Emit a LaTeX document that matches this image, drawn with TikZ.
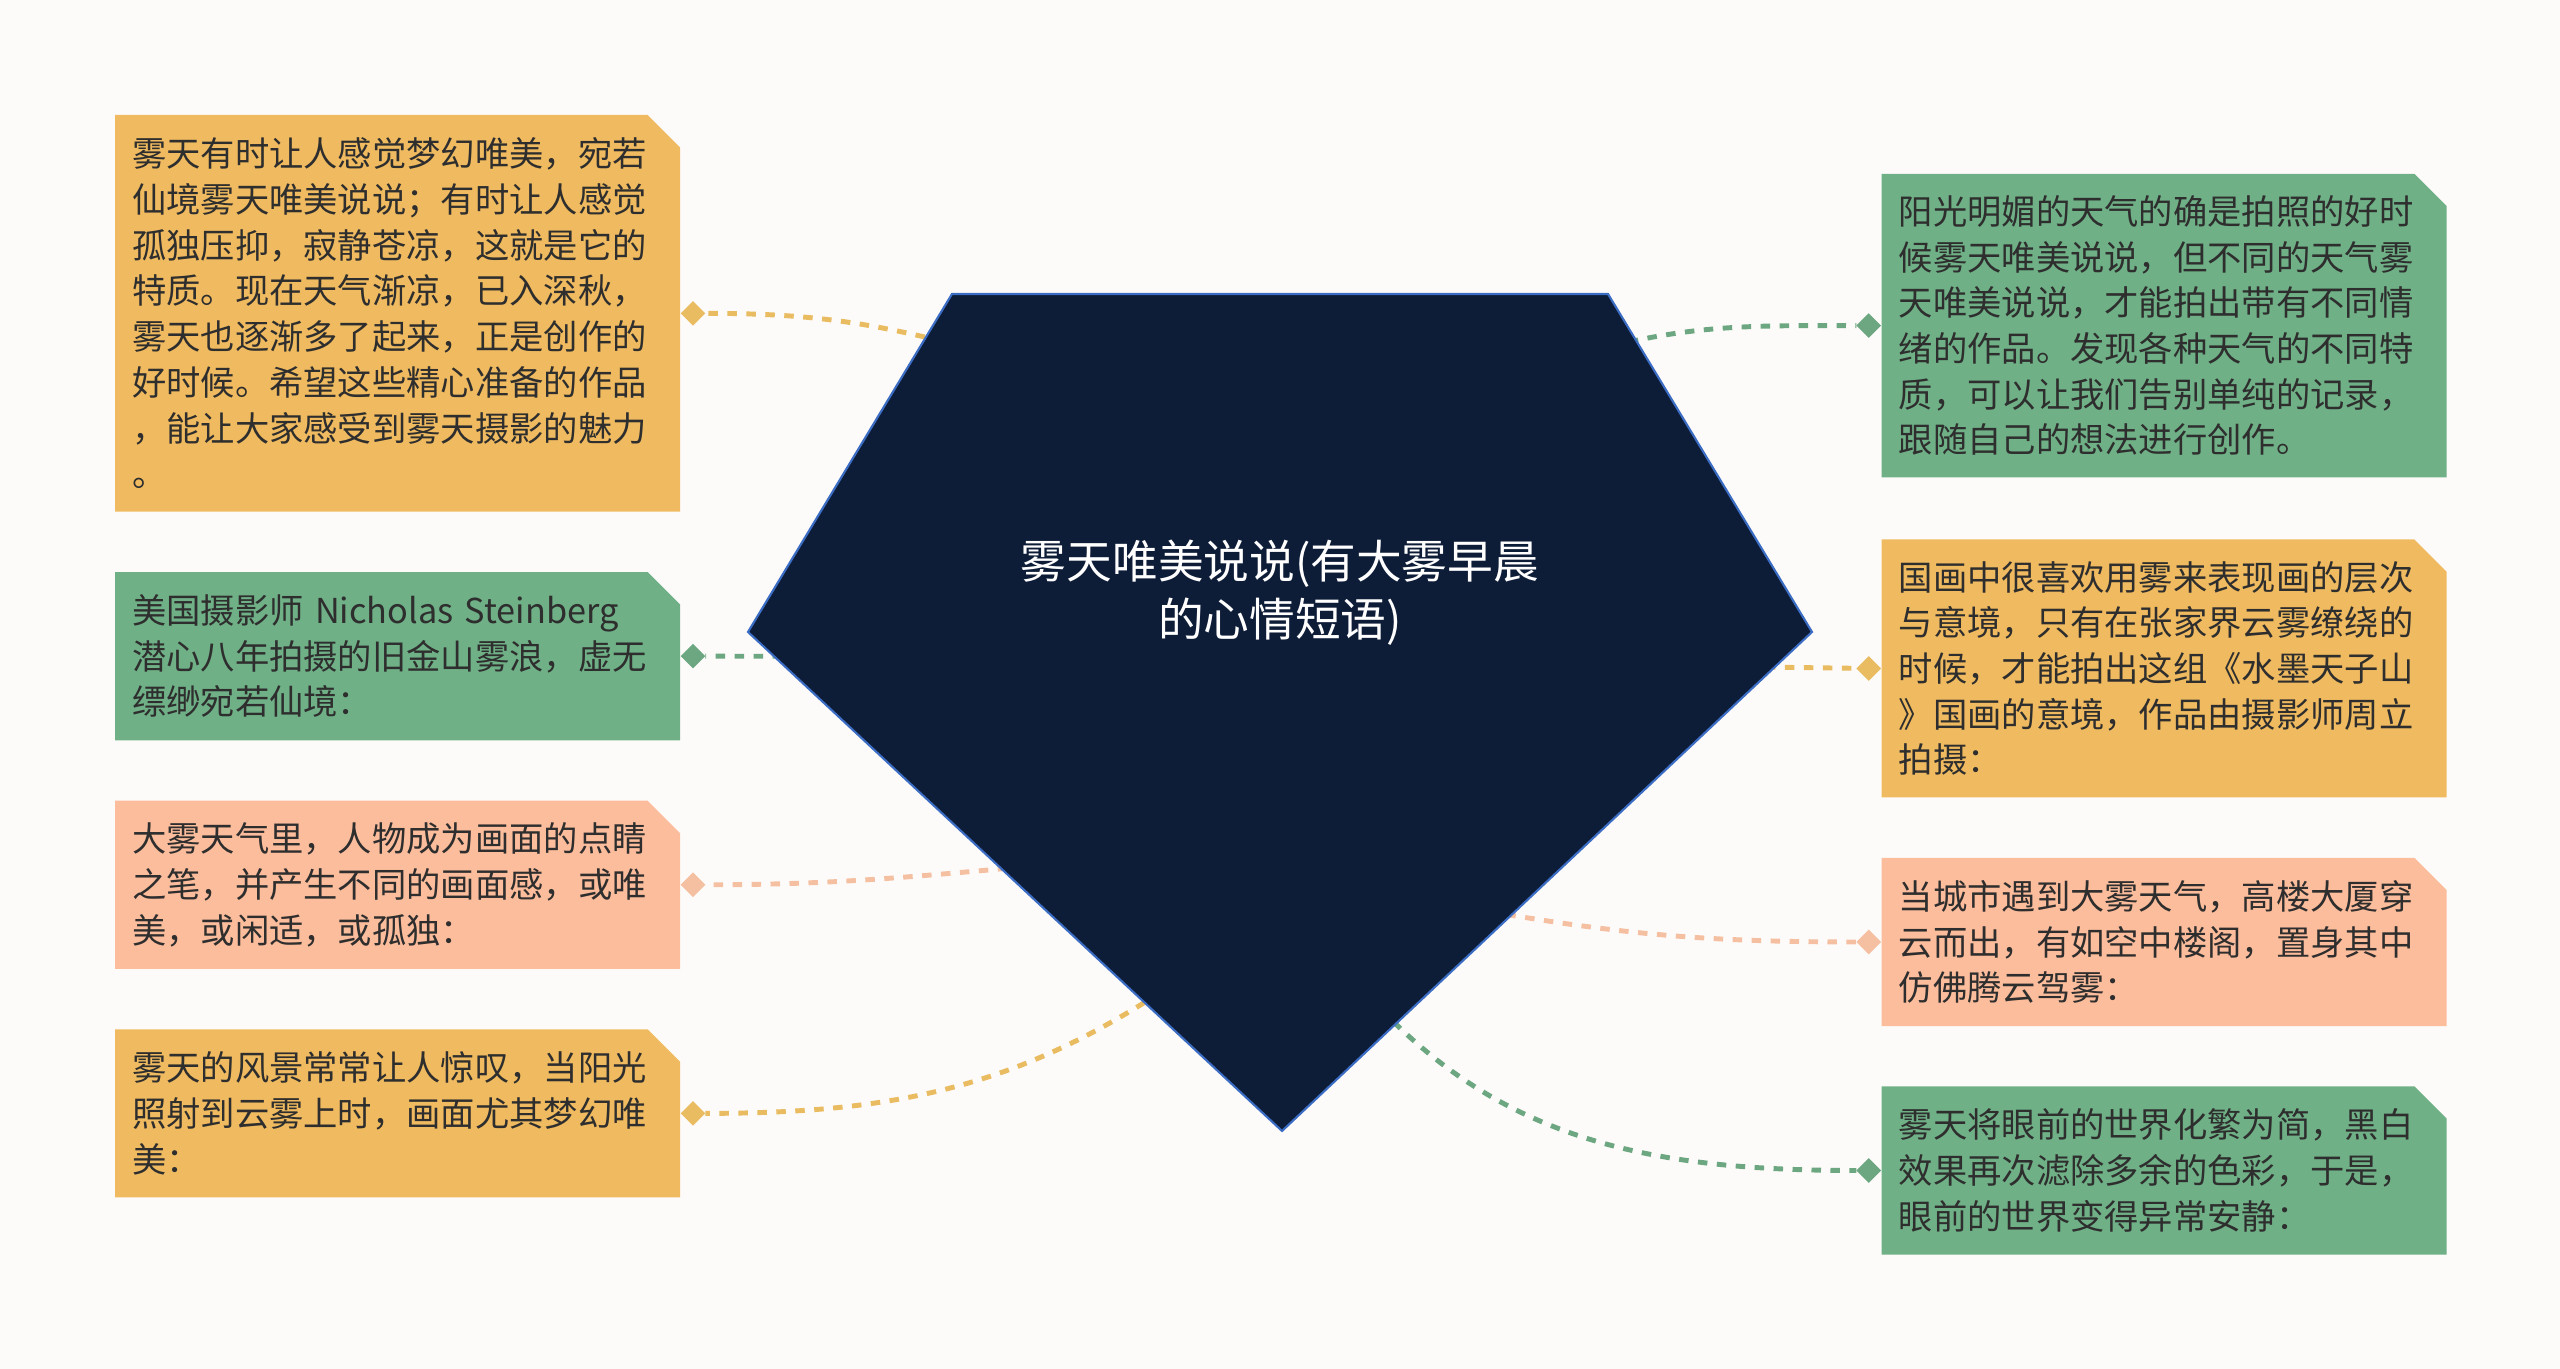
\documentclass[tikz,border=0pt]{standalone}
\usepackage{fontspec}
\setmainfont{Noto Sans CJK SC}
\usetikzlibrary{shapes.misc,shapes.geometric,positioning}

\definecolor{bgcol}{HTML}{FDFBF9}
\definecolor{orangebox}{HTML}{F0BB60}
\definecolor{greenbox}{HTML}{6FB086}
\definecolor{salmonbox}{HTML}{FCBD9C}
\definecolor{rootfill}{HTML}{0D1C37}
\definecolor{rootline}{HTML}{3B6DC4}
\definecolor{leaftext}{HTML}{2E2E2E}
\definecolor{orangeline}{HTML}{E9BC62}
\definecolor{greenline}{HTML}{6CA781}
\definecolor{salmonline}{HTML}{F5C0A2}

\tikzset{
  leaf/.style={chamfered rectangle, chamfered rectangle corners=north east,
    chamfered rectangle sep=4.6pt, anchor=north west, minimum width=5.65cm,
    text width=151pt, inner sep=0pt, align=left, text=leaftext,
    font=\fontsize{9.76pt}{13pt}\selectfont},
  dot/.style={diamond, minimum size=6.6pt, inner sep=0pt},
  link/.style={line width=1.4pt, dash pattern=on 2.7pt off 2.7pt},
}

\begin{document}
\begin{tikzpicture}
  \fill[bgcol] (0,0) rectangle (25.6,13.69);
  \useasboundingbox (0,0) rectangle (25.6,13.69);

  % leaves on the left
  \node[leaf, fill=orangebox, minimum height=3.967cm] (l1) at (1.143,12.547)
    {雾天有时让人感觉梦幻唯美，宛若\\仙境雾天唯美说说；有时让人感觉\\孤独压抑，寂静苍凉，这就是它的\\特质。现在天气渐凉，已入深秋，\\雾天也逐渐多了起来，正是创作的\\好时候。希望这些精心准备的作品\\，能让大家感受到雾天摄影的魅力\\。};
  \node[leaf, fill=greenbox, minimum height=1.682cm] (l2) at (1.143,7.976)
    {美国摄影师 Nicholas Steinberg\\潜心八年拍摄的旧金山雾浪，虚无\\缥缈宛若仙境：};
  \node[leaf, fill=salmonbox, minimum height=1.682cm] (l3) at (1.143,5.690)
    {大雾天气里，人物成为画面的点睛\\之笔，并产生不同的画面感，或唯\\美，或闲适，或孤独：};
  \node[leaf, fill=orangebox, minimum height=1.682cm] (l4) at (1.143,3.404)
    {雾天的风景常常让人惊叹，当阳光\\照射到云雾上时，画面尤其梦幻唯\\美：};

  % leaves on the right
  \node[leaf, fill=greenbox, minimum height=3.036cm] (r1) at (18.81,11.959)
    {阳光明媚的天气的确是拍照的好时\\候雾天唯美说说，但不同的天气雾\\天唯美说说，才能拍出带有不同情\\绪的作品。发现各种天气的不同特\\质，可以让我们告别单纯的记录，\\跟随自己的想法进行创作。};
  \node[leaf, fill=orangebox, minimum height=2.580cm] (r2) at (18.81,8.302)
    {国画中很喜欢用雾来表现画的层次\\与意境，只有在张家界云雾缭绕的\\时候，才能拍出这组《水墨天子山\\》国画的意境，作品由摄影师周立\\拍摄：};
  \node[leaf, fill=salmonbox, minimum height=1.682cm] (r3) at (18.81,5.118)
    {当城市遇到大雾天气，高楼大厦穿\\云而出，有如空中楼阁，置身其中\\仿佛腾云驾雾：};
  \node[leaf, fill=greenbox, minimum height=1.682cm] (r4) at (18.81,2.833)
    {雾天将眼前的世界化繁为简，黑白\\效果再次滤除多余的色彩，于是，\\眼前的世界变得异常安静：};

  % diamonds
  \node[dot, fill=orangeline, right=0cm of l1] (d1) {};
  \node[dot, fill=greenline, right=0cm of l2] (d2) {};
  \node[dot, fill=salmonline, right=0cm of l3] (d3) {};
  \node[dot, fill=orangeline, right=0cm of l4] (d4) {};
  \node[dot, fill=greenline, left=0cm of r1] (e1) {};
  \node[dot, fill=orangeline, left=0cm of r2] (e2) {};
  \node[dot, fill=salmonline, left=0cm of r3] (e3) {};
  \node[dot, fill=greenline, left=0cm of r4] (e4) {};

  % where the links leave the root
  \coordinate (l1s) at (9.80,10.18);
  \coordinate (l2s) at (8.20,7.127);
  \coordinate (l3s) at (10.45,5.04);
  \coordinate (l4s) at (11.92,3.98);
  \coordinate (r1s) at (15.92,10.18);
  \coordinate (r2s) at (16.90,7.029);
  \coordinate (r3s) at (14.69,4.61);
  \coordinate (r4s) at (13.55,3.89);

  \begin{scope}[link]
    \draw[orangeline] (l1s) to[out=165,in=0] (d1);
    \draw[greenline] (l2s) -- (d2);
    \draw[salmonline] (l3s) to[out=185,in=0] (d3);
    \draw[orangeline] (l4s) to[out=215,in=0] (d4);
    \draw[greenline] (r1s) to[out=15,in=180] (e1);
    \draw[orangeline] (r2s) -- (e2);
    \draw[salmonline] (r3s) to[out=-10,in=180] (e3);
    \draw[greenline] (r4s) to[out=-50,in=180] (e4);
  \end{scope}

  % root
  \coordinate (p1) at (9.52,10.75);
  \coordinate (p2) at (16.08,10.75);
  \coordinate (p3) at (18.12,7.37);
  \coordinate (p4) at (12.82,2.38);
  \coordinate (p5) at (7.48,7.37);
  \filldraw[fill=rootfill, draw=rootline, line width=0.6pt]
    (p1) -- (p2) -- (p3) -- (p4) -- (p5) -- cycle;
  \node[align=center, text=white, font=\fontsize{13pt}{16.7pt}\selectfont]
    (root) at (12.80,7.763) {雾天唯美说说(有大雾早晨\\的心情短语)};

  % diamonds again on top of the links
  \foreach \d/\c in {d1/orangeline,d2/greenline,d3/salmonline,d4/orangeline,
                     e1/greenline,e2/orangeline,e3/salmonline,e4/greenline}
    \fill[\c] (\d.north) -- (\d.east) -- (\d.south) -- (\d.west) -- cycle;
\end{tikzpicture}
\end{document}
